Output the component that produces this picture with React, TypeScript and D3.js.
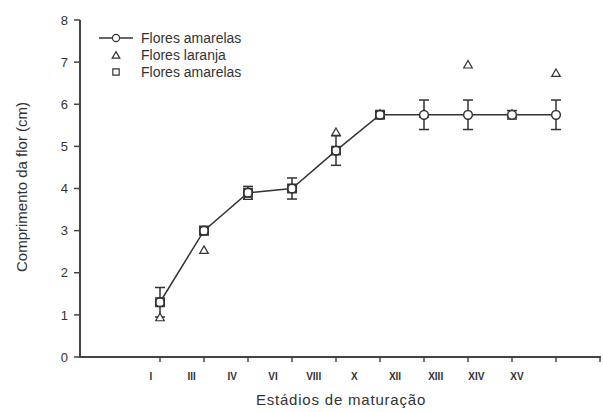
import React, { useEffect, useRef } from "react";
import * as d3 from "d3";

const stages = ["I", "III", "IV", "VI", "VIII", "X", "XII", "XIII", "XIV", "XV"];
const amarelas = [1.3, 3.0, 3.9, 4.0, 4.9, 5.75, 5.75, 5.75, 5.75, 5.75];
const amarelasErr = [0.35, 0.1, 0.15, 0.25, 0.35, 0.08, 0.35, 0.35, 0.1, 0.35];
const laranja = [0.92, 2.52, 3.8, 4.0, 5.32, 5.75, 5.75, 6.92, 5.75, 6.72];
const quadrados = [1.3, 3.0, 3.9, 4.0, 4.9, 5.75];
const yTicks = [0, 1, 2, 3, 4, 5, 6, 7, 8];

const App = () => {
  const ref = useRef<SVGSVGElement>(null);

  useEffect(() => {
    const svg = d3.select(ref.current);
    svg.selectAll("*").remove();

    const ink = "#333";
    const font = "Arial, 'Liberation Sans', sans-serif";

    // tick positions: 10 stages plus one empty slot at the end
    const x = d3.scaleLinear().domain([0, 10]).range([160, 600]);
    // labels in the original sit a little left of their ticks
    const xLabel = d3.scaleLinear().domain([0, 9]).range([151, 517]);
    const y = d3.scaleLinear().domain([0, 8]).range([357, 20]);

    // axes
    const gx = svg.append("g").attr("transform", "translate(0,357)");
    gx.append("line").attr("x1", 79).attr("x2", 601).attr("stroke", "#444").attr("stroke-width", 2);
    gx.selectAll("line.t")
      .data(d3.range(11))
      .join("line")
      .attr("class", "t")
      .attr("x1", d => x(d)).attr("x2", d => x(d))
      .attr("y1", 0).attr("y2", 5)
      .attr("stroke", "#444").attr("stroke-width", 1.5);
    gx.selectAll("text")
      .data(stages)
      .join("text")
      .attr("x", (d, i) => xLabel(i))
      .attr("y", 23)
      .attr("text-anchor", "middle")
      .attr("font-family", font)
      .attr("font-size", 10)
      .attr("font-weight", "bold")
      .attr("fill", ink)
      .text(d => d);

    const gy = svg.append("g").attr("transform", "translate(80,0)");
    gy.append("line").attr("y1", y(8)).attr("y2", y(0) + 1).attr("stroke", "#444").attr("stroke-width", 2);
    gy.selectAll("line.t")
      .data(yTicks)
      .join("line")
      .attr("class", "t")
      .attr("x1", -6).attr("x2", 0)
      .attr("y1", d => y(d)).attr("y2", d => y(d))
      .attr("stroke", "#444").attr("stroke-width", 1.5);
    gy.selectAll("text")
      .data(yTicks)
      .join("text")
      .attr("x", -12)
      .attr("y", d => y(d))
      .attr("dy", "0.36em")
      .attr("text-anchor", "end")
      .attr("font-family", font)
      .attr("font-size", 13)
      .attr("fill", ink)
      .text(d => d);

    svg.append("text")
      .attr("transform", "translate(27,187) rotate(-90)")
      .attr("text-anchor", "middle")
      .attr("font-family", font)
      .attr("font-size", 15)
      .attr("fill", ink)
      .text("Comprimento da flor (cm)");

    svg.append("text")
      .attr("x", 341).attr("y", 405)
      .attr("text-anchor", "middle")
      .attr("font-family", font)
      .attr("font-size", 15)
      .attr("letter-spacing", 0.8)
      .attr("fill", ink)
      .text("Estádios de maturação");

    // connecting line
    const line = d3.line<number>().x((d, i) => x(i)).y(d => y(d));
    svg.append("path")
      .datum(amarelas)
      .attr("fill", "none")
      .attr("stroke", ink)
      .attr("stroke-width", 1.5)
      .attr("d", line);

    // error bars
    const eb = svg.append("g").attr("stroke", ink).attr("stroke-width", 1.5);
    amarelas.forEach((v, i) => {
      const e = amarelasErr[i];
      const cx = x(i);
      eb.append("line").attr("x1", cx).attr("x2", cx).attr("y1", y(v + e)).attr("y2", y(v - e));
      eb.append("line").attr("x1", cx - 5).attr("x2", cx + 5).attr("y1", y(v + e)).attr("y2", y(v + e));
      eb.append("line").attr("x1", cx - 5).attr("x2", cx + 5).attr("y1", y(v - e)).attr("y2", y(v - e));
    });

    const tri = d3.symbol().type(d3.symbolTriangle).size(32);
    const sq = d3.symbol().type(d3.symbolSquare).size(70);
    const circ = d3.symbol().type(d3.symbolCircle).size(60);

    svg.append("g").selectAll("path")
      .data(laranja)
      .join("path")
      .attr("transform", (d, i) => `translate(${x(i)},${y(d)})`)
      .attr("d", tri)
      .attr("fill", "white")
      .attr("stroke", ink)
      .attr("stroke-width", 1.2);

    svg.append("g").selectAll("path")
      .data(amarelas)
      .join("path")
      .attr("transform", (d, i) => `translate(${x(i)},${y(d)})`)
      .attr("d", circ)
      .attr("fill", "white")
      .attr("stroke", ink)
      .attr("stroke-width", 1.5);

    svg.append("g").selectAll("path")
      .data(quadrados)
      .join("path")
      .attr("transform", (d, i) => `translate(${x(i)},${y(d)})`)
      .attr("d", sq)
      .attr("fill", "none")
      .attr("stroke", ink)
      .attr("stroke-width", 1.5);

    // legend
    const lg = svg.append("g").attr("font-family", font).attr("font-size", 14).attr("fill", ink);
    lg.append("line").attr("x1", 99).attr("x2", 133).attr("y1", 38).attr("y2", 38).attr("stroke", ink).attr("stroke-width", 1.5);
    lg.append("path").attr("transform", "translate(116,38)").attr("d", d3.symbol().type(d3.symbolCircle).size(40)())
      .attr("fill", "white").attr("stroke", ink).attr("stroke-width", 1.2);
    lg.append("path").attr("transform", "translate(116,56)").attr("d", d3.symbol().type(d3.symbolTriangle).size(25)())
      .attr("fill", "white").attr("stroke", ink).attr("stroke-width", 1.2);
    lg.append("path").attr("transform", "translate(116,72)").attr("d", d3.symbol().type(d3.symbolSquare).size(40)())
      .attr("fill", "white").attr("stroke", ink).attr("stroke-width", 1.2);
    const legendText = ["Flores amarelas", "Flores laranja", "Flores amarelas"];
    lg.selectAll("text")
      .data(legendText)
      .join("text")
      .attr("x", 141)
      .attr("y", (d, i) => 38 + i * 17)
      .attr("dy", "0.36em")
      .text(d => d);
  }, []);

  return (
    <svg
      ref={ref}
      width={603}
      height={412}
      style={{ position: "absolute", left: 0, top: 0, background: "white" }}
    ></svg>
  );
};

export default App;
